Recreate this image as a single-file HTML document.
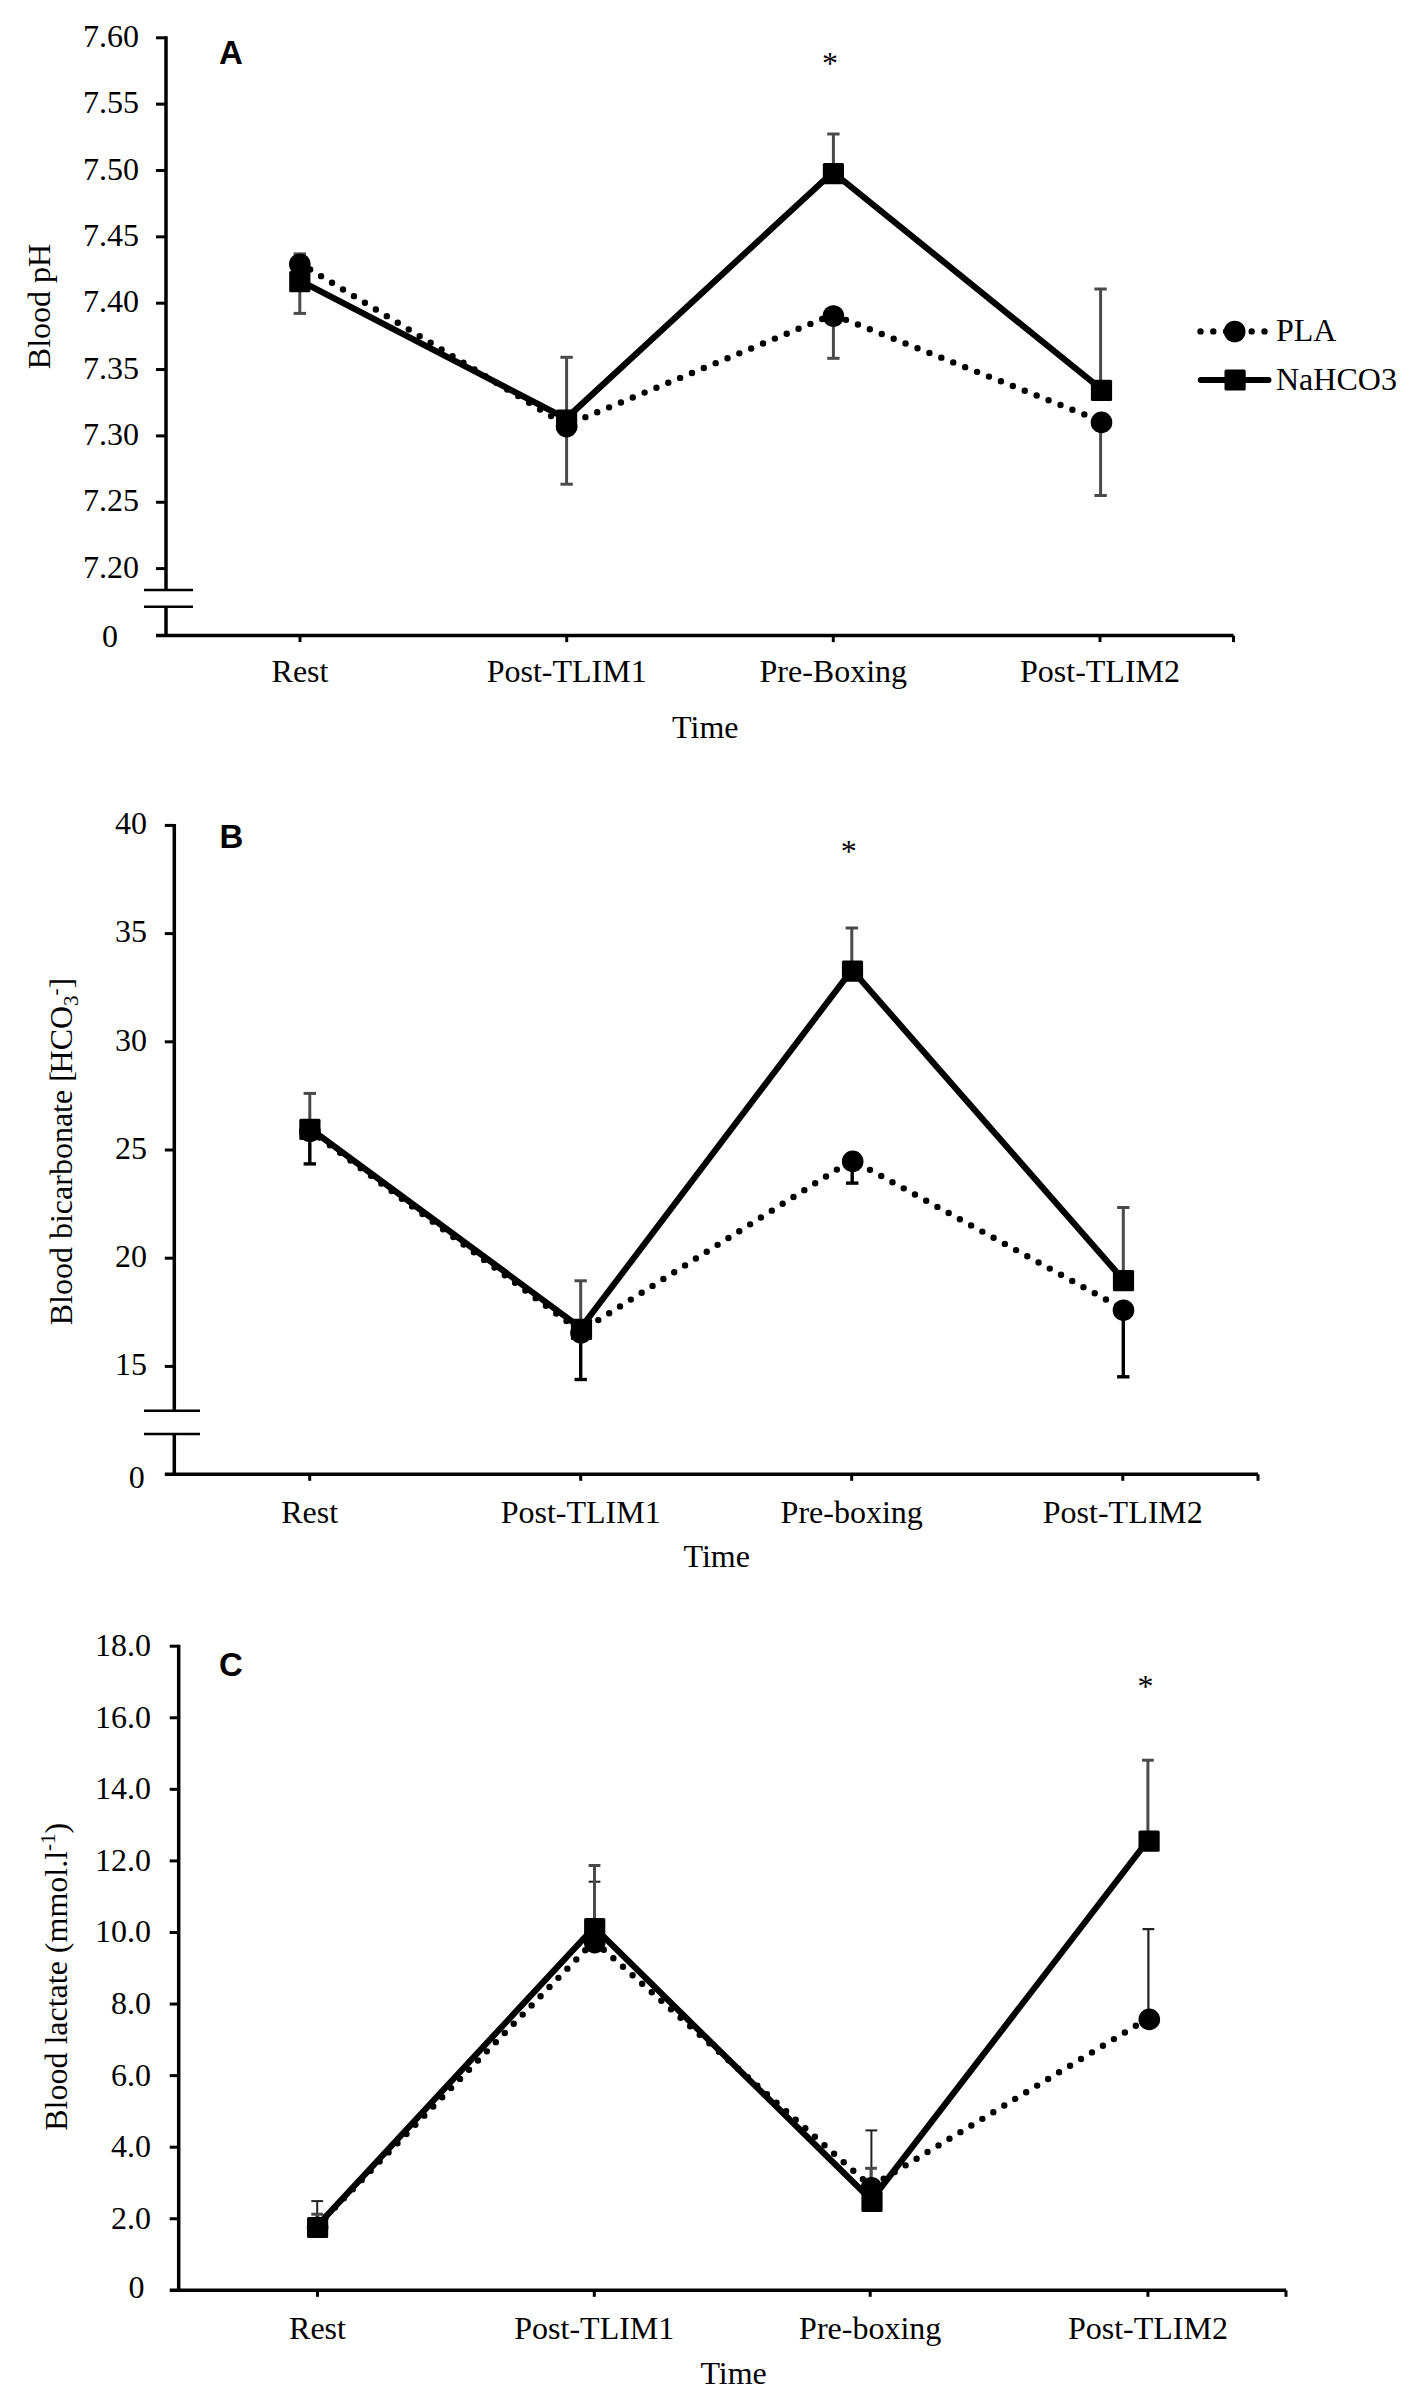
<!DOCTYPE html>
<html><head><meta charset="utf-8"><title>Figure</title>
<style>
html,body{margin:0;padding:0;background:#fff;}
svg{display:block;}
text{font-family:"Liberation Serif",serif;font-size:32px;fill:#000;}
text.lt{font-family:"Liberation Sans",sans-serif;font-weight:bold;font-size:33px;}
</style></head>
<body>
<svg width="1418" height="2405" viewBox="0 0 1418 2405">
<rect width="1418" height="2405" fill="#fff"/>
<line x1="166" y1="36.3" x2="166" y2="590" stroke="#000" stroke-width="3.5"/>
<line x1="166" y1="606.7" x2="166" y2="635.6" stroke="#000" stroke-width="3.5"/>
<line x1="144" y1="590" x2="193" y2="590" stroke="#000" stroke-width="2.6"/>
<line x1="144" y1="606.7" x2="193" y2="606.7" stroke="#000" stroke-width="2.6"/>
<line x1="156" y1="37.8" x2="166" y2="37.8" stroke="#000" stroke-width="3.0"/>
<text x="139" y="47" text-anchor="end">7.60</text>
<line x1="156" y1="104.15" x2="166" y2="104.15" stroke="#000" stroke-width="3.0"/>
<text x="139" y="113.35" text-anchor="end">7.55</text>
<line x1="156" y1="170.5" x2="166" y2="170.5" stroke="#000" stroke-width="3.0"/>
<text x="139" y="179.7" text-anchor="end">7.50</text>
<line x1="156" y1="236.85" x2="166" y2="236.85" stroke="#000" stroke-width="3.0"/>
<text x="139" y="246.05" text-anchor="end">7.45</text>
<line x1="156" y1="303.2" x2="166" y2="303.2" stroke="#000" stroke-width="3.0"/>
<text x="139" y="312.4" text-anchor="end">7.40</text>
<line x1="156" y1="369.55" x2="166" y2="369.55" stroke="#000" stroke-width="3.0"/>
<text x="139" y="378.75" text-anchor="end">7.35</text>
<line x1="156" y1="435.9" x2="166" y2="435.9" stroke="#000" stroke-width="3.0"/>
<text x="139" y="445.1" text-anchor="end">7.30</text>
<line x1="156" y1="502.25" x2="166" y2="502.25" stroke="#000" stroke-width="3.0"/>
<text x="139" y="511.45" text-anchor="end">7.25</text>
<line x1="156" y1="568.6" x2="166" y2="568.6" stroke="#000" stroke-width="3.0"/>
<text x="139" y="577.8" text-anchor="end">7.20</text>
<line x1="156" y1="635.6" x2="1233.5" y2="635.6" stroke="#000" stroke-width="3.5"/>
<text x="118" y="646.8" text-anchor="end">0</text>
<line x1="300" y1="635.6" x2="300" y2="642.1" stroke="#000" stroke-width="3.0"/>
<line x1="566.7" y1="635.6" x2="566.7" y2="642.1" stroke="#000" stroke-width="3.0"/>
<line x1="833.3" y1="635.6" x2="833.3" y2="642.1" stroke="#000" stroke-width="3.0"/>
<line x1="1100" y1="635.6" x2="1100" y2="642.1" stroke="#000" stroke-width="3.0"/>
<line x1="1233.5" y1="635.6" x2="1233.5" y2="642.1" stroke="#000" stroke-width="3.0"/>
<text x="300" y="682.3" text-anchor="middle">Rest</text>
<text x="566.7" y="682.3" text-anchor="middle">Post-TLIM1</text>
<text x="833.3" y="682.3" text-anchor="middle">Pre-Boxing</text>
<text x="1100" y="682.3" text-anchor="middle">Post-TLIM2</text>
<text x="705.3" y="737.7" text-anchor="middle">Time</text>
<text transform="translate(49.8,306.5) rotate(-90)" text-anchor="middle">Blood pH</text>
<text x="219" y="63.6" class="lt">A</text>
<text x="830" y="74" text-anchor="middle">*</text>
<line x1="299.8" y1="264.2" x2="299.8" y2="313.4" stroke="#4a4a4a" stroke-width="3"/>
<line x1="293.6" y1="313.4" x2="306" y2="313.4" stroke="#4a4a4a" stroke-width="3"/>
<line x1="566.6" y1="426.6" x2="566.6" y2="484.2" stroke="#4a4a4a" stroke-width="3"/>
<line x1="560.4" y1="484.2" x2="572.8" y2="484.2" stroke="#4a4a4a" stroke-width="3"/>
<line x1="833.4" y1="316" x2="833.4" y2="358.3" stroke="#4a4a4a" stroke-width="3"/>
<line x1="827.2" y1="358.3" x2="839.6" y2="358.3" stroke="#4a4a4a" stroke-width="3"/>
<line x1="1100.6" y1="422.4" x2="1100.6" y2="495.5" stroke="#4a4a4a" stroke-width="3"/>
<line x1="1094.4" y1="495.5" x2="1106.8" y2="495.5" stroke="#4a4a4a" stroke-width="3"/>
<line x1="299.8" y1="281.7" x2="299.8" y2="253.9" stroke="#4a4a4a" stroke-width="3"/>
<line x1="293.6" y1="253.9" x2="306" y2="253.9" stroke="#4a4a4a" stroke-width="3"/>
<line x1="566.6" y1="420" x2="566.6" y2="357.3" stroke="#4a4a4a" stroke-width="3"/>
<line x1="560.4" y1="357.3" x2="572.8" y2="357.3" stroke="#4a4a4a" stroke-width="3"/>
<line x1="833.4" y1="173.6" x2="833.4" y2="134" stroke="#4a4a4a" stroke-width="3"/>
<line x1="827.2" y1="134" x2="839.6" y2="134" stroke="#4a4a4a" stroke-width="3"/>
<line x1="1100.6" y1="390.3" x2="1100.6" y2="289" stroke="#4a4a4a" stroke-width="3"/>
<line x1="1094.4" y1="289" x2="1106.8" y2="289" stroke="#4a4a4a" stroke-width="3"/>
<polyline points="299.2,262.8 566,425.2 832.8,314.6 1100.9,421" fill="none" stroke="#000" stroke-width="6.4" stroke-linecap="round" stroke-linejoin="round" stroke-dasharray="0 12.82"/>
<polyline points="299.2,280.3 566,418.6 832.8,172.2 1100.9,388.9" fill="none" stroke="#000" stroke-width="6.2" stroke-linejoin="round"/>
<circle cx="299.8" cy="264.2" r="10.8" fill="#000"/>
<circle cx="566.6" cy="426.6" r="10.8" fill="#000"/>
<circle cx="833.4" cy="316" r="10.8" fill="#000"/>
<circle cx="1101.5" cy="422.4" r="10.8" fill="#000"/>
<rect x="289.2" y="271.1" width="21.2" height="21.2" rx="1.5" fill="#000"/>
<rect x="556" y="409.4" width="21.2" height="21.2" rx="1.5" fill="#000"/>
<rect x="822.8" y="163" width="21.2" height="21.2" rx="1.5" fill="#000"/>
<rect x="1090.9" y="379.7" width="21.2" height="21.2" rx="1.5" fill="#000"/>
<line x1="174.3" y1="823.9" x2="174.3" y2="1410.7" stroke="#000" stroke-width="3.5"/>
<line x1="174.3" y1="1434" x2="174.3" y2="1474.3" stroke="#000" stroke-width="3.5"/>
<line x1="144" y1="1410.7" x2="200" y2="1410.7" stroke="#000" stroke-width="2.6"/>
<line x1="144" y1="1434" x2="200" y2="1434" stroke="#000" stroke-width="2.6"/>
<line x1="164.8" y1="825.4" x2="174.3" y2="825.4" stroke="#000" stroke-width="3.0"/>
<text x="147" y="834.2" text-anchor="end">40</text>
<line x1="164.8" y1="933.6" x2="174.3" y2="933.6" stroke="#000" stroke-width="3.0"/>
<text x="147" y="942.4" text-anchor="end">35</text>
<line x1="164.8" y1="1041.8" x2="174.3" y2="1041.8" stroke="#000" stroke-width="3.0"/>
<text x="147" y="1050.6" text-anchor="end">30</text>
<line x1="164.8" y1="1150" x2="174.3" y2="1150" stroke="#000" stroke-width="3.0"/>
<text x="147" y="1158.8" text-anchor="end">25</text>
<line x1="164.8" y1="1258.2" x2="174.3" y2="1258.2" stroke="#000" stroke-width="3.0"/>
<text x="147" y="1267" text-anchor="end">20</text>
<line x1="164.8" y1="1366.4" x2="174.3" y2="1366.4" stroke="#000" stroke-width="3.0"/>
<text x="147" y="1375.2" text-anchor="end">15</text>
<line x1="164.8" y1="1474.3" x2="1258" y2="1474.3" stroke="#000" stroke-width="3.5"/>
<text x="144.7" y="1488.2" text-anchor="end">0</text>
<line x1="309.7" y1="1474.3" x2="309.7" y2="1480.8" stroke="#000" stroke-width="3.0"/>
<line x1="580.7" y1="1474.3" x2="580.7" y2="1480.8" stroke="#000" stroke-width="3.0"/>
<line x1="851.7" y1="1474.3" x2="851.7" y2="1480.8" stroke="#000" stroke-width="3.0"/>
<line x1="1122.8" y1="1474.3" x2="1122.8" y2="1480.8" stroke="#000" stroke-width="3.0"/>
<line x1="1258" y1="1474.3" x2="1258" y2="1480.8" stroke="#000" stroke-width="3.0"/>
<text x="309.7" y="1523" text-anchor="middle">Rest</text>
<text x="580.7" y="1523" text-anchor="middle">Post-TLIM1</text>
<text x="851.7" y="1523" text-anchor="middle">Pre-boxing</text>
<text x="1122.8" y="1523" text-anchor="middle">Post-TLIM2</text>
<text x="716.7" y="1567.4" text-anchor="middle">Time</text>
<text transform="translate(72.4,1151.5) rotate(-90)" text-anchor="middle">Blood bicarbonate [<tspan dx="-2.3">HCO</tspan><tspan font-size="21" dy="5.4">3</tspan><tspan font-size="21" dy="-16.2">-</tspan><tspan dy="10.8">]</tspan></text>
<text x="219.5" y="848.2" class="lt">B</text>
<text x="848.7" y="861.5" text-anchor="middle">*</text>
<line x1="309.8" y1="1131.3" x2="309.8" y2="1163.9" stroke="#000" stroke-width="3.4"/>
<line x1="303.6" y1="1163.9" x2="316" y2="1163.9" stroke="#000" stroke-width="3.4"/>
<line x1="580.7" y1="1332.8" x2="580.7" y2="1379.5" stroke="#000" stroke-width="3.4"/>
<line x1="574.5" y1="1379.5" x2="586.9" y2="1379.5" stroke="#000" stroke-width="3.4"/>
<line x1="852.2" y1="1161.4" x2="852.2" y2="1183.1" stroke="#000" stroke-width="3.4"/>
<line x1="846" y1="1183.1" x2="858.4" y2="1183.1" stroke="#000" stroke-width="3.4"/>
<line x1="1123.3" y1="1310.2" x2="1123.3" y2="1376.8" stroke="#000" stroke-width="3.4"/>
<line x1="1117.1" y1="1376.8" x2="1129.5" y2="1376.8" stroke="#000" stroke-width="3.4"/>
<line x1="309.8" y1="1129.4" x2="309.8" y2="1093.4" stroke="#4a4a4a" stroke-width="3"/>
<line x1="303.6" y1="1093.4" x2="316" y2="1093.4" stroke="#4a4a4a" stroke-width="3"/>
<line x1="580.7" y1="1329.3" x2="580.7" y2="1280.8" stroke="#4a4a4a" stroke-width="3"/>
<line x1="574.5" y1="1280.8" x2="586.9" y2="1280.8" stroke="#4a4a4a" stroke-width="3"/>
<line x1="851.8" y1="971.2" x2="851.8" y2="928" stroke="#4a4a4a" stroke-width="3"/>
<line x1="845.6" y1="928" x2="858" y2="928" stroke="#4a4a4a" stroke-width="3"/>
<line x1="1123.3" y1="1280.7" x2="1123.3" y2="1207.5" stroke="#4a4a4a" stroke-width="3"/>
<line x1="1117.1" y1="1207.5" x2="1129.5" y2="1207.5" stroke="#4a4a4a" stroke-width="3"/>
<polyline points="309.3,1129.9 580.4,1331.4 852.1,1160 1122.9,1308.8" fill="none" stroke="#000" stroke-width="6.4" stroke-linecap="round" stroke-linejoin="round" stroke-dasharray="0 12.82"/>
<polyline points="309.3,1128 580.9,1327.9 851.9,969.8 1122.9,1279.3" fill="none" stroke="#000" stroke-width="6.2" stroke-linejoin="round"/>
<circle cx="309.9" cy="1131.3" r="10.8" fill="#000"/>
<circle cx="581" cy="1332.8" r="10.8" fill="#000"/>
<circle cx="852.7" cy="1161.4" r="10.8" fill="#000"/>
<circle cx="1123.5" cy="1310.2" r="10.8" fill="#000"/>
<rect x="299.3" y="1118.8" width="21.2" height="21.2" rx="1.5" fill="#000"/>
<rect x="570.9" y="1318.7" width="21.2" height="21.2" rx="1.5" fill="#000"/>
<rect x="841.9" y="960.6" width="21.2" height="21.2" rx="1.5" fill="#000"/>
<rect x="1112.9" y="1270.1" width="21.2" height="21.2" rx="1.5" fill="#000"/>
<line x1="178.7" y1="1644.7" x2="178.7" y2="2290.3" stroke="#000" stroke-width="3.5"/>
<line x1="169.7" y1="1646.2" x2="178.7" y2="1646.2" stroke="#000" stroke-width="3.0"/>
<text x="151" y="1656.2" text-anchor="end">18.0</text>
<line x1="169.7" y1="1717.77" x2="178.7" y2="1717.77" stroke="#000" stroke-width="3.0"/>
<text x="151" y="1727.77" text-anchor="end">16.0</text>
<line x1="169.7" y1="1789.34" x2="178.7" y2="1789.34" stroke="#000" stroke-width="3.0"/>
<text x="151" y="1799.34" text-anchor="end">14.0</text>
<line x1="169.7" y1="1860.91" x2="178.7" y2="1860.91" stroke="#000" stroke-width="3.0"/>
<text x="151" y="1870.91" text-anchor="end">12.0</text>
<line x1="169.7" y1="1932.48" x2="178.7" y2="1932.48" stroke="#000" stroke-width="3.0"/>
<text x="151" y="1942.48" text-anchor="end">10.0</text>
<line x1="169.7" y1="2004.05" x2="178.7" y2="2004.05" stroke="#000" stroke-width="3.0"/>
<text x="151" y="2014.05" text-anchor="end">8.0</text>
<line x1="169.7" y1="2075.62" x2="178.7" y2="2075.62" stroke="#000" stroke-width="3.0"/>
<text x="151" y="2085.62" text-anchor="end">6.0</text>
<line x1="169.7" y1="2147.19" x2="178.7" y2="2147.19" stroke="#000" stroke-width="3.0"/>
<text x="151" y="2157.19" text-anchor="end">4.0</text>
<line x1="169.7" y1="2218.76" x2="178.7" y2="2218.76" stroke="#000" stroke-width="3.0"/>
<text x="151" y="2228.76" text-anchor="end">2.0</text>
<line x1="169.7" y1="2290.3" x2="1286" y2="2290.3" stroke="#000" stroke-width="3.5"/>
<text x="144.5" y="2298" text-anchor="end">0</text>
<line x1="317.5" y1="2290.3" x2="317.5" y2="2296.8" stroke="#000" stroke-width="3.0"/>
<line x1="594.3" y1="2290.3" x2="594.3" y2="2296.8" stroke="#000" stroke-width="3.0"/>
<line x1="870.2" y1="2290.3" x2="870.2" y2="2296.8" stroke="#000" stroke-width="3.0"/>
<line x1="1147.9" y1="2290.3" x2="1147.9" y2="2296.8" stroke="#000" stroke-width="3.0"/>
<line x1="1286" y1="2290.3" x2="1286" y2="2296.8" stroke="#000" stroke-width="3.0"/>
<text x="317.5" y="2338.8" text-anchor="middle">Rest</text>
<text x="594.3" y="2338.8" text-anchor="middle">Post-TLIM1</text>
<text x="870.2" y="2338.8" text-anchor="middle">Pre-boxing</text>
<text x="1147.9" y="2338.8" text-anchor="middle">Post-TLIM2</text>
<text x="733.6" y="2383.5" text-anchor="middle">Time</text>
<text transform="translate(67,1976.8) rotate(-90)" text-anchor="middle">Blood lactate (mmol.l<tspan font-size="21" dy="-12">-1</tspan><tspan dy="12">)</tspan></text>
<text x="219" y="1676" class="lt">C</text>
<text x="1145.6" y="1696.5" text-anchor="middle">*</text>
<line x1="317.2" y1="2227.3" x2="317.2" y2="2201.1" stroke="#222" stroke-width="2"/>
<line x1="311.3" y1="2201.1" x2="323.1" y2="2201.1" stroke="#222" stroke-width="2"/>
<line x1="594.5" y1="1942.6" x2="594.5" y2="1881.7" stroke="#222" stroke-width="2"/>
<line x1="588.6" y1="1881.7" x2="600.4" y2="1881.7" stroke="#222" stroke-width="2"/>
<line x1="871.4" y1="2187.8" x2="871.4" y2="2130.4" stroke="#222" stroke-width="2"/>
<line x1="865.5" y1="2130.4" x2="877.3" y2="2130.4" stroke="#222" stroke-width="2"/>
<line x1="1148.4" y1="2019.4" x2="1148.4" y2="1929.1" stroke="#222" stroke-width="2.2"/>
<line x1="1142.5" y1="1929.1" x2="1154.3" y2="1929.1" stroke="#222" stroke-width="2.2"/>
<line x1="317.2" y1="2227.5" x2="317.2" y2="2214.2" stroke="#4a4a4a" stroke-width="3"/>
<line x1="311.3" y1="2214.2" x2="323.1" y2="2214.2" stroke="#4a4a4a" stroke-width="3"/>
<line x1="594.5" y1="1928.7" x2="594.5" y2="1865.5" stroke="#4a4a4a" stroke-width="3"/>
<line x1="588.6" y1="1865.5" x2="600.4" y2="1865.5" stroke="#4a4a4a" stroke-width="3"/>
<line x1="871" y1="2201.4" x2="871" y2="2168.3" stroke="#4a4a4a" stroke-width="3"/>
<line x1="865.1" y1="2168.3" x2="876.9" y2="2168.3" stroke="#4a4a4a" stroke-width="3"/>
<line x1="1147.9" y1="1841.1" x2="1147.9" y2="1760.2" stroke="#4a4a4a" stroke-width="3"/>
<line x1="1142" y1="1760.2" x2="1153.8" y2="1760.2" stroke="#4a4a4a" stroke-width="3"/>
<polyline points="317,2225.9 594.1,1941.2 870.9,2186.4 1148.7,2018" fill="none" stroke="#000" stroke-width="6.4" stroke-linecap="round" stroke-linejoin="round" stroke-dasharray="0 12.82"/>
<polyline points="317,2226.1 594.1,1927.3 871.4,2200 1148.5,1839.7" fill="none" stroke="#000" stroke-width="6.2" stroke-linejoin="round"/>
<circle cx="317.6" cy="2227.3" r="10.8" fill="#000"/>
<circle cx="594.7" cy="1942.6" r="10.8" fill="#000"/>
<circle cx="871.5" cy="2187.8" r="10.8" fill="#000"/>
<circle cx="1149.3" cy="2019.4" r="10.8" fill="#000"/>
<rect x="307" y="2216.9" width="21.2" height="21.2" rx="1.5" fill="#000"/>
<rect x="584.1" y="1918.1" width="21.2" height="21.2" rx="1.5" fill="#000"/>
<rect x="861.4" y="2190.8" width="21.2" height="21.2" rx="1.5" fill="#000"/>
<rect x="1138.5" y="1830.5" width="21.2" height="21.2" rx="1.5" fill="#000"/>
<line x1="1200.5" y1="331.4" x2="1266" y2="331.4" stroke="#000" stroke-width="6.4" stroke-linecap="round" stroke-dasharray="0 12.8"/>
<circle cx="1234.7" cy="331.5" r="10.8" fill="#000"/>
<text x="1276" y="341">PLA</text>
<line x1="1200.8" y1="380" x2="1268.5" y2="380" stroke="#000" stroke-width="6" stroke-linecap="round"/>
<rect x="1224.5" y="369.6" width="21.2" height="21" rx="1.5" fill="#000"/>
<text x="1276" y="389.8">NaHCO3</text>
</svg>
</body></html>
